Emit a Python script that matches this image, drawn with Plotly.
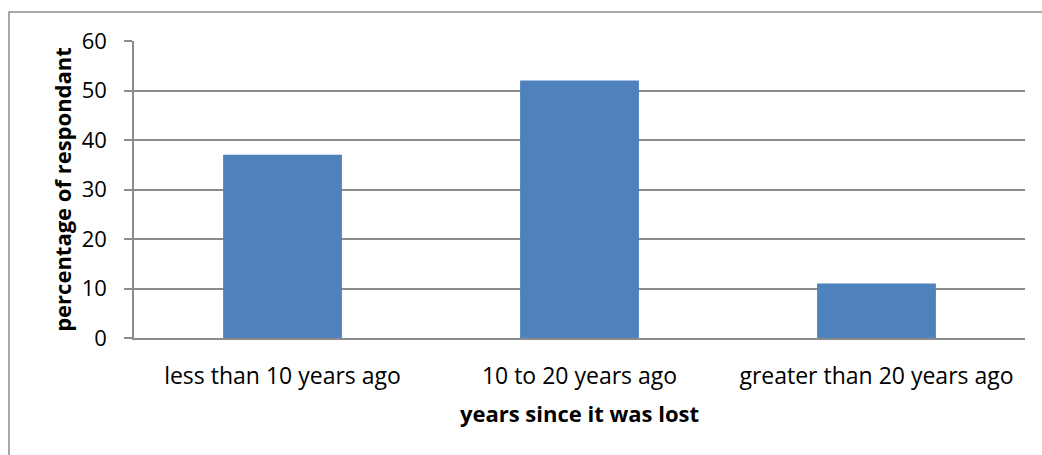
import plotly.graph_objects as go

categories = ["less than 10 years ago", "10 to 20 years ago", "greater than 20 years ago"]
values = [37, 52, 11]
y_ticks = [0, 10, 20, 30, 40, 50, 60]

W, H = 1042, 455
L, R, T, B = 134, 17, 41, 117
pw, ph = W - L - R, H - T - B

def px_x(p):
    return (p - L) / pw

def px_y(p):
    return (H - B - p) / ph

font = "Open Sans"
FS = 22
fig = go.Figure(go.Bar(x=categories, y=values, marker=dict(color="#4F81BD", line=dict(width=0)), width=0.4))

fig.update_layout(
    width=W, height=H,
    margin=dict(l=L, r=R, t=T, b=B),
    plot_bgcolor="white", paper_bgcolor="white",
    showlegend=False,
    font=dict(family=font, size=FS, color="black"),
    shapes=[dict(type="rect", xref="paper", yref="paper",
                 x0=px_x(9), x1=px_x(1050), y0=px_y(470), y1=px_y(12),
                 line=dict(color="#8C8C8C", width=1.5), fillcolor="rgba(0,0,0,0)", layer="below")],
)
fig.update_xaxes(
    showline=True, linecolor="#8C8C8C", linewidth=1.5,
    ticks="", showgrid=False,
    tickfont=dict(size=23), ticklabelstandoff=17,
    title=dict(text="<b>years since it was lost</b>", font=dict(size=FS), standoff=16),
)
fig.update_yaxes(
    range=[0, 60], tickvals=y_ticks,
    showline=True, linecolor="#8C8C8C", linewidth=1.5,
    ticks="outside", ticklen=8, tickcolor="#8C8C8C", tickwidth=1.5,
    showgrid=True, gridcolor="#8C8C8C", gridwidth=1.5,
    zeroline=False,
    tickfont=dict(size=FS), ticklabelstandoff=13,
    title=dict(text="<b>percentage of respondant</b>", font=dict(size=FS), standoff=4),
)

fig.write_html("out.html")
